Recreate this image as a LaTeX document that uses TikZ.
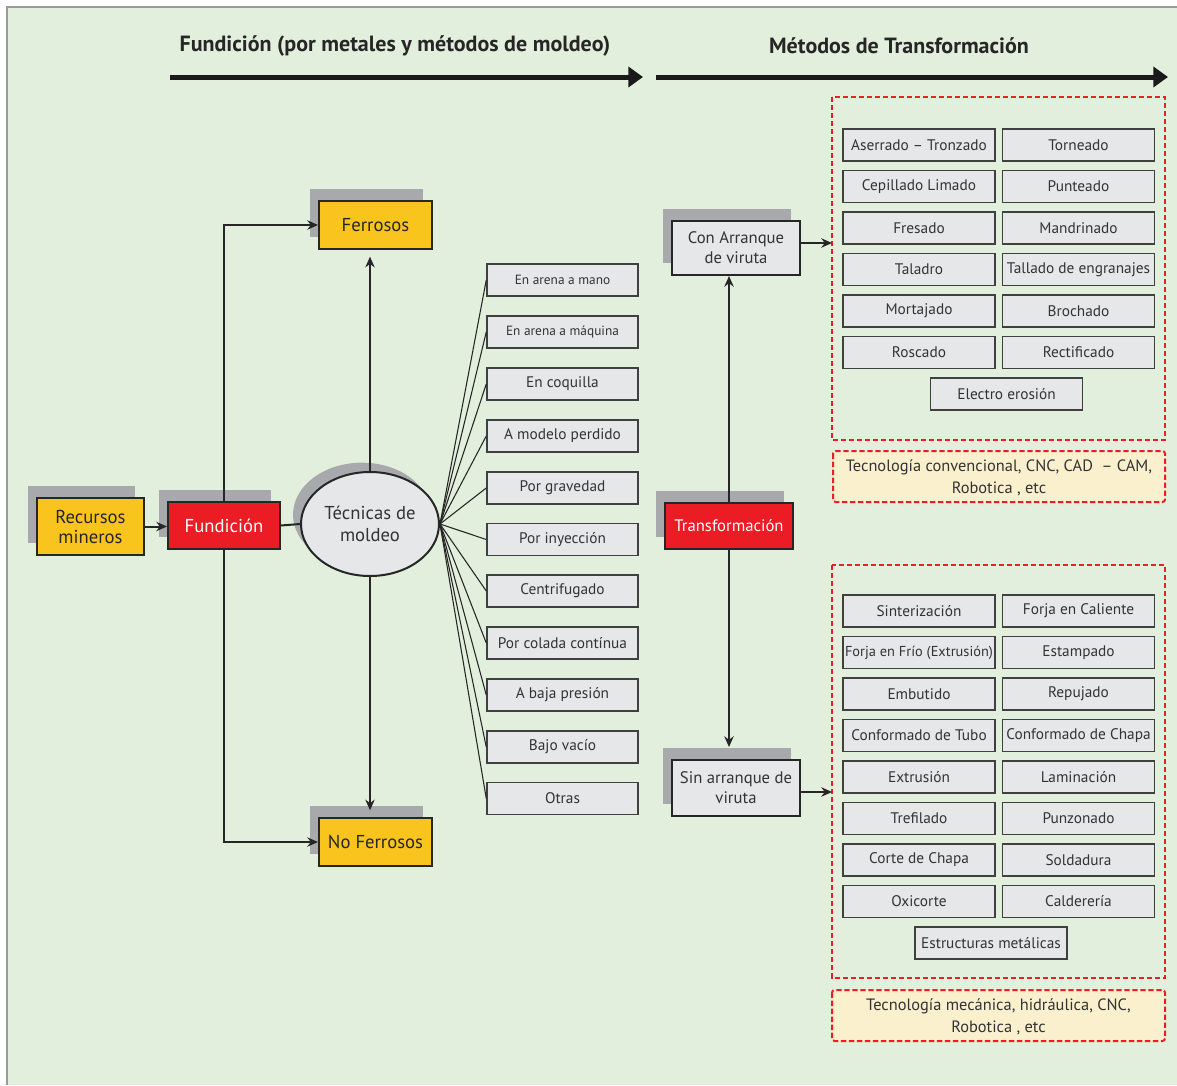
\documentclass[tikz,border=0pt]{standalone}
\usepackage{fontspec}
\setmainfont{PT Sans}
\usetikzlibrary{arrows.meta,shapes.geometric,shadows}
\definecolor{bggreen}{HTML}{E3EFDD}
\definecolor{boxgray}{HTML}{E6E7E9}
\definecolor{shade}{HTML}{A7A9AC}
\definecolor{gold}{HTML}{F9C41E}
\definecolor{redbox}{HTML}{EC1C24}
\definecolor{cream}{HTML}{FAF0CE}
\definecolor{ink}{HTML}{333333}
\definecolor{dashred}{HTML}{EE1C25}
\definecolor{frame}{HTML}{9A9A9A}
\tikzset{
  shd/.style={drop shadow={shadow xshift=-7pt, shadow yshift=9pt, opacity=1, fill=shade}},
  bigbox/.style={draw=black!85, line width=1.5pt, align=center, inner sep=0pt,
    font=\fontsize{14}{16}\selectfont, shd},
  yel/.style={bigbox, fill=gold, text=black!85},
  redn/.style={bigbox, fill=redbox, text=white},
  grn/.style={bigbox, fill=boxgray, text=ink},
  tbox/.style={draw=black!75, line width=1.1pt, fill=boxgray, text=ink, inner sep=0pt,
    minimum width={151*0.75pt}, minimum height={32*0.75pt}, font=\fontsize{11.5}{13}\selectfont},
  gbox/.style={tbox, minimum width={152*0.75pt}},
  link/.style={draw=black!85, line width=1.5pt},
  arr/.style={link, -{Stealth[length=8pt, width=7pt]}},
  fan/.style={draw=black!85, line width=0.8pt},
  redzone/.style={draw=dashred, line width=1.5pt, dash pattern=on 4pt off 2pt},
  note/.style={redzone, fill=cream, rounded corners=2pt},
  head/.style={font=\bfseries\fontsize{16.5}{18}\selectfont, text=black!85},
  headarrow/.style={draw=black!90, line width=3.75pt, -{Triangle[length=11pt, width=15pt]}}
}
\begin{document}
\begin{tikzpicture}[x=0.75pt, y=-0.75pt]
\useasboundingbox (0,0) rectangle (1177,1085);
% page and frame
\fill[white] (0,0) rectangle (1177,1085);
\fill[bggreen] (7,7) rectangle (1177,1085);
\draw[frame, line width=1.2pt] (7,1085) -- (7,7) -- (1177,7);

% headings
\node[head] (h1) at (395,46) {Fundición (por metales y métodos de moldeo)};
\node[head] (h2) at (899,46) {Métodos de Transformación};
\coordinate (a1s) at (170,77); \coordinate (a1e) at (643,77);
\coordinate (a2s) at (656,77); \coordinate (a2e) at (1168,77);
\draw[headarrow] (a1s) -- (a1e);
\draw[headarrow] (a2s) -- (a2e);

% casting branch
\node[yel, minimum width={107*0.75pt}, minimum height={57*0.75pt}] (rec) at (90.5,526.5) {Recursos\\[-1pt]mineros};
\node[redn, minimum width={112*0.75pt}, minimum height={47*0.75pt}] (fund) at (224,525.5) {Fundición};
\node[yel, minimum width={113*0.75pt}, minimum height={48*0.75pt}] (ferr) at (375.5,225) {Ferrosos};
\node[yel, minimum width={113*0.75pt}, minimum height={48*0.75pt}] (noferr) at (375.5,842) {No Ferrosos};
\node[ellipse, draw=black!85, line width=1.5pt, fill=boxgray, text=ink, align=center,
      inner sep=0pt, minimum width={138*0.75pt}, minimum height={104*0.75pt},
      font=\fontsize{14}{17}\selectfont,
      drop shadow={shadow xshift=-6pt, shadow yshift=7pt, opacity=1, fill=shade}]
      (tech) at (370,524) {Técnicas de\\moldeo};

\draw[arr] (rec.east) -- (rec.east -| fund.west);
\draw[link] (fund.east) -- (tech.west);
\draw[arr] (fund.north) |- (ferr.west);
\draw[arr] (fund.south) |- (noferr.west);
\draw[arr, shorten >=5pt] (tech.north) -- (tech.north |- ferr.south);
\draw[arr, shorten >=5pt] (tech.south) -- (tech.south |- noferr.north);

% moulding techniques
\node[tbox, font=\fontsize{10}{11}\selectfont] (t1) at (562.5,280) {En arena a mano};
\node[tbox, font=\fontsize{10}{11}\selectfont] (t2) at (562.5,332) {En arena a máquina};
\node[tbox] (t3) at (562.5,384) {En coquilla};
\node[tbox] (t4) at (562.5,436) {A modelo perdido};
\node[tbox] (t5) at (562.5,488) {Por gravedad};
\node[tbox] (t6) at (562.5,539.5) {Por inyección};
\node[tbox] (t7) at (562.5,591) {Centrifugado};
\node[tbox] (t8) at (562.5,643) {Por colada contínua};
\node[tbox] (t9) at (562.5,695) {A baja presión};
\node[tbox] (t10) at (562.5,747) {Bajo vacío};
\node[tbox] (t11) at (562.5,798.5) {Otras};
\foreach \i in {1,...,11} \draw[fan] (tech.east) -- (t\i.west);

% transformation branch
\node[redn, minimum width={128*0.75pt}, minimum height={46*0.75pt},
      font=\fontsize{12.5}{14}\selectfont] (trans) at (729,526) {Transformación};
\node[grn, minimum width={128*0.75pt}, minimum height={54*0.75pt},
      font=\fontsize{12.5}{15}\selectfont] (con) at (736,248) {Con Arranque\\de viruta};
\node[grn, minimum width={128*0.75pt}, minimum height={56*0.75pt},
      font=\fontsize{12.5}{15}\selectfont] (sin) at (736,788) {Sin arranque de\\viruta};
\draw[arr] (trans.north) -- (trans.north |- con.south);
\draw[arr, shorten >=9pt] (trans.south) -- (trans.south |- sin.north);

% groups of processes
\draw[redzone] (832,97) rectangle (1165,440);
\coordinate (z1) at (832,243);
\draw[redzone] (832,565) rectangle (1165,978);
\coordinate (z2) at (832,792);
\draw[arr] ([yshift=3.75pt]con.east) -- (z1);
\draw[arr] ([yshift=-3pt]sin.east) -- (z2);

\node[gbox] (c1) at (919,145) {Aserrado – Tronzado};
\node[gbox] (c2) at (1078.5,145) {Torneado};
\node[gbox] (c3) at (919,186.5) {Cepillado Limado};
\node[gbox] (c4) at (1078.5,186.5) {Punteado};
\node[gbox] (c5) at (919,228) {Fresado};
\node[gbox] (c6) at (1078.5,228) {Mandrinado};
\node[gbox] (c7) at (919,269.5) {Taladro};
\node[gbox] (c8) at (1078.5,269.5) {Tallado de engranajes};
\node[gbox] (c9) at (919,311) {Mortajado};
\node[gbox] (c10) at (1078.5,311) {Brochado};
\node[gbox] (c11) at (919,352.5) {Roscado};
\node[gbox] (c12) at (1078.5,352.5) {Rectificado};
\node[gbox] (c13) at (1006.5,394) {Electro erosión};

\node[gbox] (s1) at (919,611) {Sinterización};
\node[gbox] (s2) at (1078.5,611) {Forja en Caliente};
\node[gbox, font=\fontsize{10.8}{13}\selectfont] (s3) at (919,652.5) {Forja en Frío (Extrusión)};
\node[gbox] (s4) at (1078.5,652.5) {Estampado};
\node[gbox] (s5) at (919,694) {Embutido};
\node[gbox] (s6) at (1078.5,694) {Repujado};
\node[gbox] (s7) at (919,735.5) {Conformado de Tubo};
\node[gbox] (s8) at (1078.5,735.5) {Conformado de Chapa};
\node[gbox] (s9) at (919,777) {Extrusión};
\node[gbox] (s10) at (1078.5,777) {Laminación};
\node[gbox] (s11) at (919,818.5) {Trefilado};
\node[gbox] (s12) at (1078.5,818.5) {Punzonado};
\node[gbox] (s13) at (919,860) {Corte de Chapa};
\node[gbox] (s14) at (1078.5,860) {Soldadura};
\node[gbox] (s15) at (919,901.5) {Oxicorte};
\node[gbox] (s16) at (1078.5,901.5) {Calderería};
\node[gbox] (s17) at (991,943) {Estructuras metálicas};

% technology notes
\draw[note] (833,451) rectangle (1165,502);
\node[text=ink, align=center, font=\fontsize{12.3}{16.5}\selectfont] (n1) at (999,477.5)
  {Tecnología convencional, CNC, CAD \ – CAM,\\Robotica , etc};
\draw[note] (832,990) rectangle (1165,1041);
\node[text=ink, align=center, font=\fontsize{12.3}{16.5}\selectfont] (n2) at (998.5,1016.5)
  {Tecnología mecánica, hidráulica, CNC,\\Robotica , etc};
\end{tikzpicture}
\end{document}
